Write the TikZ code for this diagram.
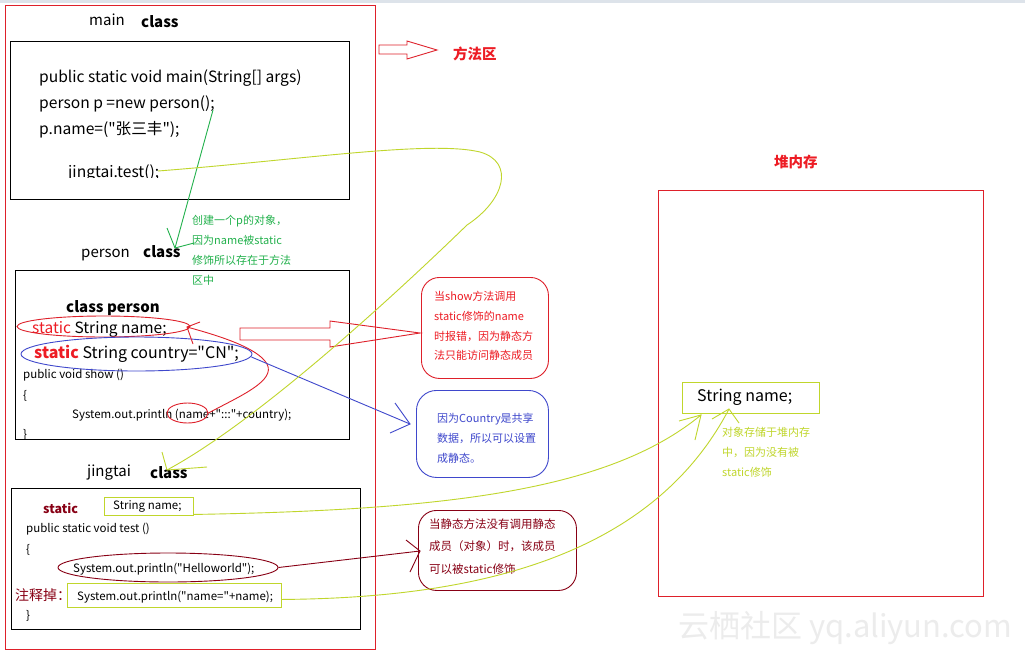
\documentclass[tikz,border=0pt]{standalone}
\usepackage{fontspec}
\setmainfont{Noto Sans CJK SC}[Ligatures=TeXOff]
\usetikzlibrary{shapes.geometric}
\definecolor{pred}{RGB}{222,32,42}
\definecolor{tred}{RGB}{237,28,36}
\definecolor{dred}{RGB}{136,0,21}
\definecolor{pblue}{RGB}{63,72,204}
\definecolor{pgreen}{RGB}{34,177,76}
\definecolor{plime}{RGB}{192,214,44}
\definecolor{wmark}{RGB}{236,236,236}
\definecolor{topbar}{RGB}{221,227,234}
\newcommand\fsz[1]{\fontsize{#1}{#1}\selectfont}
\tikzset{
  txt/.style={inner sep=0pt, anchor=west, text height=1.05em, text depth=0em},
  box/.style={draw, line width=1pt, inner sep=0pt},
  ln/.style={line width=0.9pt},
  ell/.style={ellipse, draw, line width=0.9pt, inner sep=0pt},
}
\begin{document}
\begin{tikzpicture}[x=1pt,y=-1pt]
\useasboundingbox (0,0) rectangle (1025,659);
\fill[white] (0,0) rectangle (1025,659);
\fill[topbar] (0,0) rectangle (1025,3);
% method area
\node[box, draw=pred, minimum width=370, minimum height=644, anchor=north west] (marea) at (5,5) {};
\node[txt, font=\fsz{15}] (mainlbl) at (89,20) {main};
\node[txt, font=\fsz{15}\bfseries] (maincls) at (141,22) {class};
\node[box, minimum width=339, minimum height=158, anchor=north west] (mainbox) at (10,41) {};
\node[txt, font=\fsz{15.6}] (m1) at (39,77) {public static void main(String[] args)};
\node[txt, font=\fsz{15.6}] (m2) at (39,103) {person p =new person();};
\node[txt, font=\fsz{15.6}] (m3) at (39,129) {p.name=("张三丰");};
\begin{scope}
\clip (10,41) rectangle (349,177);
\node[txt, font=\fsz{15.6}] (m4) at (68,172) {jingtai.test();};
\end{scope}
% arrow to 方法区
\draw[pred, line width=0.9pt] (379,45) -- (407,45) -- (407,41) -- (437,50) -- (407,59) -- (407,54) -- (379,54) -- cycle;
\node[txt, font=\fsz{14.5}\bfseries, text=tred] (fangfa) at (453,54) {方法区};
% person class
\node[txt, font=\fsz{15}] (perlbl) at (81,252) {person};
\node[txt, font=\fsz{15}\bfseries] (percls) at (143,252) {class};
\node[box, minimum width=334, minimum height=169, anchor=north west] (perbox) at (15,270) {};
\node[txt, font=\fsz{15}\bfseries] (p0) at (66,307) {class person};
\node[txt, font=\fsz{15.5}] (p1) at (32,328) {\textcolor{tred}{static} String name;};
\node[txt, font=\fsz{16}] (p2) at (34,353) {\textcolor{tred}{\bfseries static} String country="CN";};
\node[txt, font=\fsz{11.5}] (p3) at (23,373) {public void show ()};
\node[txt, font=\fsz{11.5}] (p4) at (23,394) {\{};
\node[txt, font=\fsz{11.5}] (p5) at (72,413) {System.out.println (name+":::"+country);};
\node[txt, font=\fsz{11.5}] (p6) at (23,433) {\}};
\node[ell, draw=pred, minimum width=173, minimum height=21] (ename) at (103.5,326.5) {};
\node[ell, draw=pblue, minimum width=231, minimum height=34] (ecountry) at (136.5,354) {};
\node[ell, draw=pred, minimum width=41, minimum height=20] (esmall) at (187.5,413) {};
% green note
\foreach \t [count=\i] in {创建一个p的对象，,因为name被static,修饰所以存在于方法,区中}
  \node[txt, font=\fsz{11}, text=pgreen] (g\i) at (192,199+20*\i) {\t};
\coordinate (gs) at (213,110);
\coordinate (gt) at (175,248);
\draw[ln, pgreen] (gs) -- (gt);
\draw[ln, pgreen] (167,228) -- (gt) -- (194,243);
% red curve back to name
\coordinate (rc) at (187,327);
\draw[ln, pred] (esmall.east) .. controls (240,396) and (276,381) .. (267,364) .. controls (258,348) and (220,336) .. (rc);
\draw[ln, pred] (200,322) -- (rc) -- (193,344);
% big hollow arrow
\draw[pred, line width=0.9pt] (240,328) -- (330,328) -- (330,321) -- (420,333) -- (330,347) -- (330,340) -- (240,340) -- cycle;
% red note
\node[box, draw=pred, line width=0.9pt, rounded corners=18pt, minimum width=127, minimum height=101, anchor=north west] (rnote) at (421,277) {};
\foreach \t [count=\i] in {当show方法调用,static修饰的name,时报错，因为静态方,法只能访问静态成员}
  \node[txt, font=\fsz{11}, text=tred] (r\i) at (434,275.5+19.8*\i) {\t};
% blue note
\coordinate (bt) at (410,424);
\draw[ln, pblue] (ecountry.east) ++(-1,3) -- (bt);
\draw[ln, pblue] (395,403) -- (bt) -- (390,433);
\node[box, draw=pblue, line width=0.9pt, rounded corners=20pt, minimum width=132, minimum height=87, anchor=north west] (bnote) at (416,390) {};
\foreach \t [count=\i] in {因为Country是共享,数据，所以可以设置,成静态。}
  \node[txt, font=\fsz{11}, text=pblue] (b\i) at (437,396.5+20.3*\i) {\t};
% jingtai class
\node[txt, font=\fsz{15}] (jlbl) at (87,471) {jingtai};
\node[txt, font=\fsz{15}\bfseries] (jcls) at (150,473) {class};
\node[box, minimum width=349, minimum height=141, anchor=north west] (jbox) at (11,488) {};
\node[txt, font=\fsz{12.5}\bfseries, text=dred] (j0) at (43,508) {static};
\node[box, draw=plime, line width=0.9pt, minimum width=89, minimum height=18, anchor=north west] (jname) at (104,497) {};
\node[txt, font=\fsz{11.5}] (j0b) at (113,504) {String name;};
\node[txt, font=\fsz{11.5}] (j1) at (26,527) {public static void test ()};
\node[txt, font=\fsz{11.5}] (j2) at (26,548) {\{};
\node[ell, draw=dred, minimum width=220, minimum height=29] (ehello) at (168,567.5) {};
\node[txt, font=\fsz{11.5}] (j3) at (73,567) {System.out.println("Helloworld");};
\node[txt, font=\fsz{14}, text=dred] (zhu) at (15,595) {注释掉：};
\node[box, draw=plime, line width=0.9pt, minimum width=214, minimum height=24, anchor=north west] (jpr) at (67,583) {};
\node[txt, font=\fsz{11.5}] (j4) at (77,595) {System.out.println("name="+name);};
\node[txt, font=\fsz{11.5}] (j5) at (26,614) {\}};
% dark red note
\coordinate (dt) at (420,551);
\draw[ln, dred] (ehello.east) -- (dt);
\draw[ln, dred] (406,540) -- (dt) -- (410,572);
\node[box, draw=dred, line width=0.9pt, rounded corners=18pt, minimum width=158, minimum height=80, anchor=north west] (dnote) at (418,510) {};
\foreach \t [count=\i] in {当静态方法没有调用静态,成员（对象）时，该成员,可以被static修饰}
  \node[txt, font=\fsz{11.5}, text=dred] (d\i) at (429,501+22.3*\i) {\t};
% yellow curve jingtai.test -> jingtai class
\coordinate (ys) at (158,171);
\coordinate (yt) at (167,470);
\draw[ln, plime] (ys) .. controls (300,160) and (430,140) .. (480,152) .. controls (515,162) and (505,200) .. (467,225) .. controls (400,290) and (260,420) .. (yt);
\draw[ln, plime] (162,452) -- (yt) -- (207,467);
% heap
\node[txt, font=\fsz{14.5}\bfseries, text=tred] (heaplbl) at (774,162) {堆内存};
\node[box, draw=pred, minimum width=325, minimum height=406, anchor=north west] (heap) at (658,190) {};
\node[box, draw=plime, line width=0.9pt, minimum width=137, minimum height=31, anchor=north west] (hname) at (682,382) {};
\node[txt, font=\fsz{16}] (hnt) at (697,396) {String name;};
\foreach \t [count=\i] in {对象存储于堆内存,中，因为没有被,static修饰}
  \node[txt, font=\fsz{11}, text=plime] (h\i) at (722,411+20*\i) {\t};
\coordinate (ht1) at (701,415);
\coordinate (ht2) at (729,409);
\draw[ln, plime] (jname.east) ++(0,8) .. controls (450,510) and (610,490) .. (ht1);
\draw[ln, plime] (679,421) -- (ht1) -- (695,440);
\draw[ln, plime] (jpr.east) ++(0,4) .. controls (470,598) and (650,560) .. (ht2);
\draw[ln, plime] (712,419) -- (ht2) -- (739,423);
% watermark
\node[txt, font=\fsz{31}, text=wmark] (wm) at (678,632) {云栖社区 yq.aliyun.com};
\end{tikzpicture}
\end{document}
